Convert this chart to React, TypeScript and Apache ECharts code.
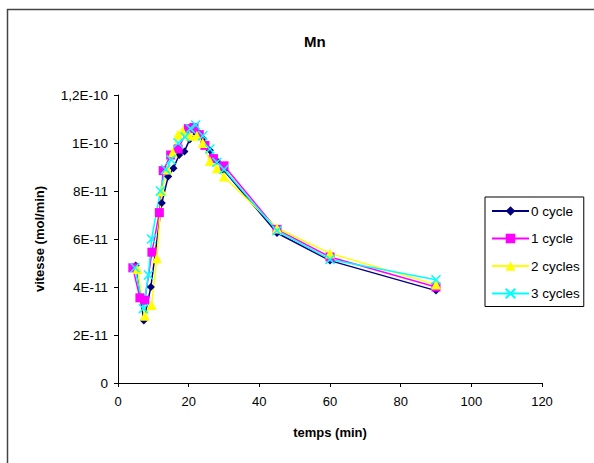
import React, { useEffect, useRef } from "react";
import * as echarts from "echarts";

const seriesNames = ["0 cycle", "1 cycle", "2 cycles", "3 cycles"];

const time0 = [5, 7.3, 9.3, 12.4, 14.2, 15.7, 17.3, 18.8, 20.3, 22, 24, 26, 28, 30, 45, 60, 90];
const vals0 = [4.9e-11, 2.6e-11, 4.0e-11, 7.5e-11, 8.6e-11, 8.95e-11, 9.5e-11, 9.65e-11, 10.15e-11, 10.45e-11, 10.2e-11, 9.7e-11, 9.25e-11, 8.85e-11, 6.25e-11, 5.1e-11, 3.85e-11];

const time1 = [4.2, 6.2, 7.6, 9.6, 11.7, 12.8, 14.9, 17, 19.9, 21.5, 23, 24.6, 27, 30, 45, 60, 90];
const vals1 = [4.8e-11, 3.55e-11, 3.45e-11, 5.45e-11, 7.1e-11, 8.85e-11, 9.5e-11, 9.75e-11, 10.6e-11, 10.65e-11, 10.35e-11, 9.9e-11, 9.35e-11, 9.05e-11, 6.4e-11, 5.25e-11, 4.0e-11];

const time2 = [5.5, 7.6, 9.5, 11, 12.4, 14, 15.5, 17, 18.3, 20.3, 22.3, 24, 26, 28, 30, 45, 60, 90];
const vals2 = [4.75e-11, 2.8e-11, 3.25e-11, 5.2e-11, 8.0e-11, 8.9e-11, 9.6e-11, 10.35e-11, 10.5e-11, 10.3e-11, 10.3e-11, 10.0e-11, 9.25e-11, 8.95e-11, 8.6e-11, 6.45e-11, 5.4e-11, 4.1e-11];

const time3 = [4.8, 7.2, 8.6, 9.5, 12, 13.5, 15, 17, 19, 20.5, 22, 24, 26, 28, 30, 45, 60, 90];
const vals3 = [4.8e-11, 3.1e-11, 4.5e-11, 6.0e-11, 8.0e-11, 8.9e-11, 9.3e-11, 10.0e-11, 10.25e-11, 10.6e-11, 10.75e-11, 10.3e-11, 9.75e-11, 9.2e-11, 8.9e-11, 6.35e-11, 5.15e-11, 4.3e-11];

const yTickLabels = ["0", "2E-11", "4E-11", "6E-11", "8E-11", "1E-10", "1,2E-10"];
const xTicks = [0, 20, 40, 60, 80, 100, 120];

const colors = ["#000080", "#FF00FF", "#FFFF00", "#00FFFF"];
const symbols = ["diamond", "rect", "triangle", "path://M0,0L10,10M10,0L0,10"];
const symbolSizes = [8, 9, 10, 9];

const times = [time0, time1, time2, time3];
const values = [vals0, vals1, vals2, vals3];

const FONT = "Liberation Sans, Arial, sans-serif";

export default function App() {
  const ref = useRef<HTMLDivElement>(null);
  useEffect(() => {
    if (!ref.current) return;
    const chart = echarts.init(ref.current, null, { renderer: "svg" });
    const series = seriesNames.map((name, i) => ({
      name,
      type: "line",
      data: times[i].map((t, j) => [t, values[i][j]]),
      symbol: symbols[i],
      symbolSize: symbolSizes[i],
      showSymbol: true,
      lineStyle: { color: colors[i], width: 1.5 },
      itemStyle: {
        color: colors[i],
        borderColor: colors[i],
        borderWidth: i === 3 ? 1.5 : 0,
      },
      emphasis: { disabled: true },
    }));
    chart.setOption({
      animation: false,
      textStyle: { fontFamily: FONT },
      title: {
        text: "Mn",
        left: 299,
        top: 29,
        textStyle: { fontSize: 15, fontWeight: "bold", color: "#000", fontFamily: FONT },
      },
      grid: { left: 118, top: 95, width: 424, height: 288, containLabel: false },
      legend: {
        orient: "vertical",
        left: 485,
        top: 197,
        padding: [7, 4, 6, 6],
        itemWidth: 37,
        itemHeight: 12,
        itemGap: 13.5,
        borderColor: "#000",
        borderWidth: 1,
        textStyle: { fontSize: 13.5, color: "#000", fontFamily: FONT, padding: [0, 0, 0, -3] },
        data: seriesNames,
      },
      xAxis: {
        type: "value",
        min: 0,
        max: 120,
        interval: 20,
        name: "temps (min)",
        nameLocation: "middle",
        nameGap: 43,
        nameTextStyle: { fontSize: 13, fontWeight: "bold", color: "#000", fontFamily: FONT },
        axisLine: { lineStyle: { color: "#000", width: 1 } },
        axisTick: { show: true, length: 4, inside: false, lineStyle: { color: "#000" } },
        axisLabel: {
          fontSize: 13,
          color: "#000",
          margin: 12,
          fontFamily: FONT,
          formatter: (v: number) => String(xTicks[Math.round(v / 20)]),
        },
        splitLine: { show: false },
      },
      yAxis: {
        type: "value",
        min: 0,
        max: 1.2e-10,
        interval: 2e-11,
        name: "vitesse (mol/min)",
        nameLocation: "middle",
        nameGap: 72,
        nameTextStyle: { fontSize: 13, fontWeight: "bold", color: "#000", fontFamily: FONT },
        axisLine: { show: true, lineStyle: { color: "#000", width: 1 } },
        axisTick: { show: true, length: 4, lineStyle: { color: "#000" } },
        axisLabel: {
          fontSize: 13.5,
          color: "#000",
          margin: 10,
          fontFamily: FONT,
          formatter: (v: number) => yTickLabels[Math.round(v / 2e-11)] ?? "",
        },
        splitLine: { show: false },
      },
      graphic: [
        {
          type: "rect",
          shape: { x: 7.5, y: 9.5, width: 620, height: 620 },
          style: { fill: "none", stroke: "#444", lineWidth: 1.5 },
          silent: true,
        },
      ],
      series,
    });
    return () => chart.dispose();
  }, []);
  return (
    <div
      ref={ref}
      style={{ position: "fixed", left: 0, top: 0, width: 594, height: 463, background: "#fff" }}
    />
  );
}
